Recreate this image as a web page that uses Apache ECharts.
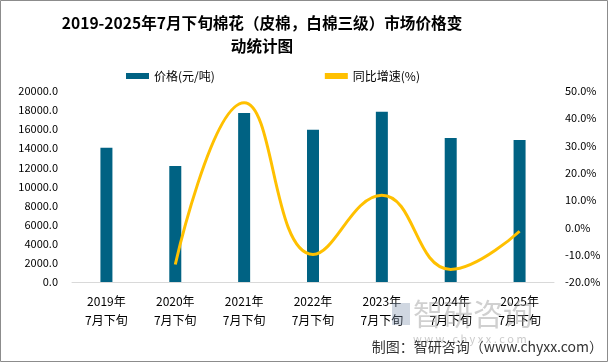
<!DOCTYPE html>
<html>
<head>
<meta charset="utf-8">
<script src="https://cdn.jsdelivr.net/npm/echarts@6/dist/echarts.min.js"></script>
<style>
html,body{margin:0;padding:0;background:#fff;}
#c{width:609px;height:363px;}
</style>
</head>
<body>
<div id="c"></div>
<script>
const categories = ['2019年\n7月下旬','2020年\n7月下旬','2021年\n7月下旬','2022年\n7月下旬','2023年\n7月下旬','2024年\n7月下旬','2025年\n7月下旬'];
const prices = [14060, 12150, 17700, 15950, 17830, 15080, 14870];
const growth = [null, -13.6, 45.7, -9.9, 11.8, -15.4, -1.4];
const leftTicks = {min: 0, max: 20000, interval: 2000};
const rightTicks = {min: -20, max: 50, interval: 10};

const chart = echarts.init(document.getElementById('c'), null, {renderer: 'canvas'});
const font = '"Microsoft YaHei","Noto Sans CJK SC",sans-serif';
chart.setOption({
  animation: false,
  backgroundColor: '#fff',
  title: {
    text: '2019-2025年7月下旬棉花（皮棉，白棉三级）市场价格变\n动统计图',
    left: 257, top: 7, textAlign: 'center',
    textStyle: {fontSize: 15.6, fontWeight: 'bold', color: '#000', lineHeight: 23, fontFamily: font}
  },
  legend: {
    top: 65, left: 121, itemGap: 110, itemWidth: 23, itemHeight: 6,
    textStyle: {fontSize: 12, color: '#000', fontFamily: font},
    data: [
      {name: '价格(元/吨)', icon: 'rect'},
      {name: '同比增速(%)', icon: 'rect'}
    ]
  },
  grid: {left: 72, right: 55, top: 91, bottom: 81},
  xAxis: {
    type: 'category', data: categories,
    axisLine: {lineStyle: {color: '#d9d9d9'}},
    axisTick: {show: false},
    axisLabel: {color: '#000', fontSize: 12, lineHeight: 19, margin: 10, interval: 0, fontFamily: font}
  },
  yAxis: [
    {type: 'value', min: leftTicks.min, max: leftTicks.max, interval: leftTicks.interval,
     splitLine: {show: false}, axisLine: {show: false}, axisTick: {show: false},
     axisLabel: {color: '#000', fontSize: 11, margin: 14, formatter: v => v.toFixed(1), fontFamily: font}},
    {type: 'value', min: rightTicks.min, max: rightTicks.max, interval: rightTicks.interval,
     splitLine: {show: false}, axisLine: {show: false}, axisTick: {show: false},
     axisLabel: {color: '#000', fontSize: 11, margin: 11, formatter: v => v.toFixed(1) + '%', fontFamily: font}}
  ],
  series: [
    {name: '价格(元/吨)', type: 'bar', data: prices, barWidth: 12, itemStyle: {color: '#006283'}},
    {name: '同比增速(%)', type: 'line', yAxisIndex: 1, data: growth, smooth: 0.45,
     showSymbol: false, symbol: 'none', connectNulls: false,
     lineStyle: {color: '#FFC000', width: 3}, itemStyle: {color: '#FFC000'}}
  ],
  graphic: [
    {type: 'rect', shape: {x: 0.5, y: 0.5, width: 607, height: 361}, style: {fill: 'none', stroke: '#8c8c8c', lineWidth: 1}, z: 100},
    {type: 'text', left: 413, top: 299, style: {text: '智研咨询', fontSize: 30, fill: 'rgba(150,150,150,0.45)', fontFamily: font}, z: 50},
    {type: 'rect', shape: {x: 392, y: 303, width: 18, height: 22}, style: {fill: 'rgba(120,140,170,0.35)'}, z: 50},
    {type: 'text', left: 413, top: 333, style: {text: 'w w w . c h y x x . c o m', fontSize: 11, fill: 'rgba(150,150,150,0.5)', fontFamily: font}, z: 50},
    {type: 'text', right: 6, top: 340, style: {text: '制图：智研咨询（www.chyxx.com）', fontSize: 14, fill: '#333', fontFamily: font}, z: 60}
  ]
});
</script>
</body>
</html>
